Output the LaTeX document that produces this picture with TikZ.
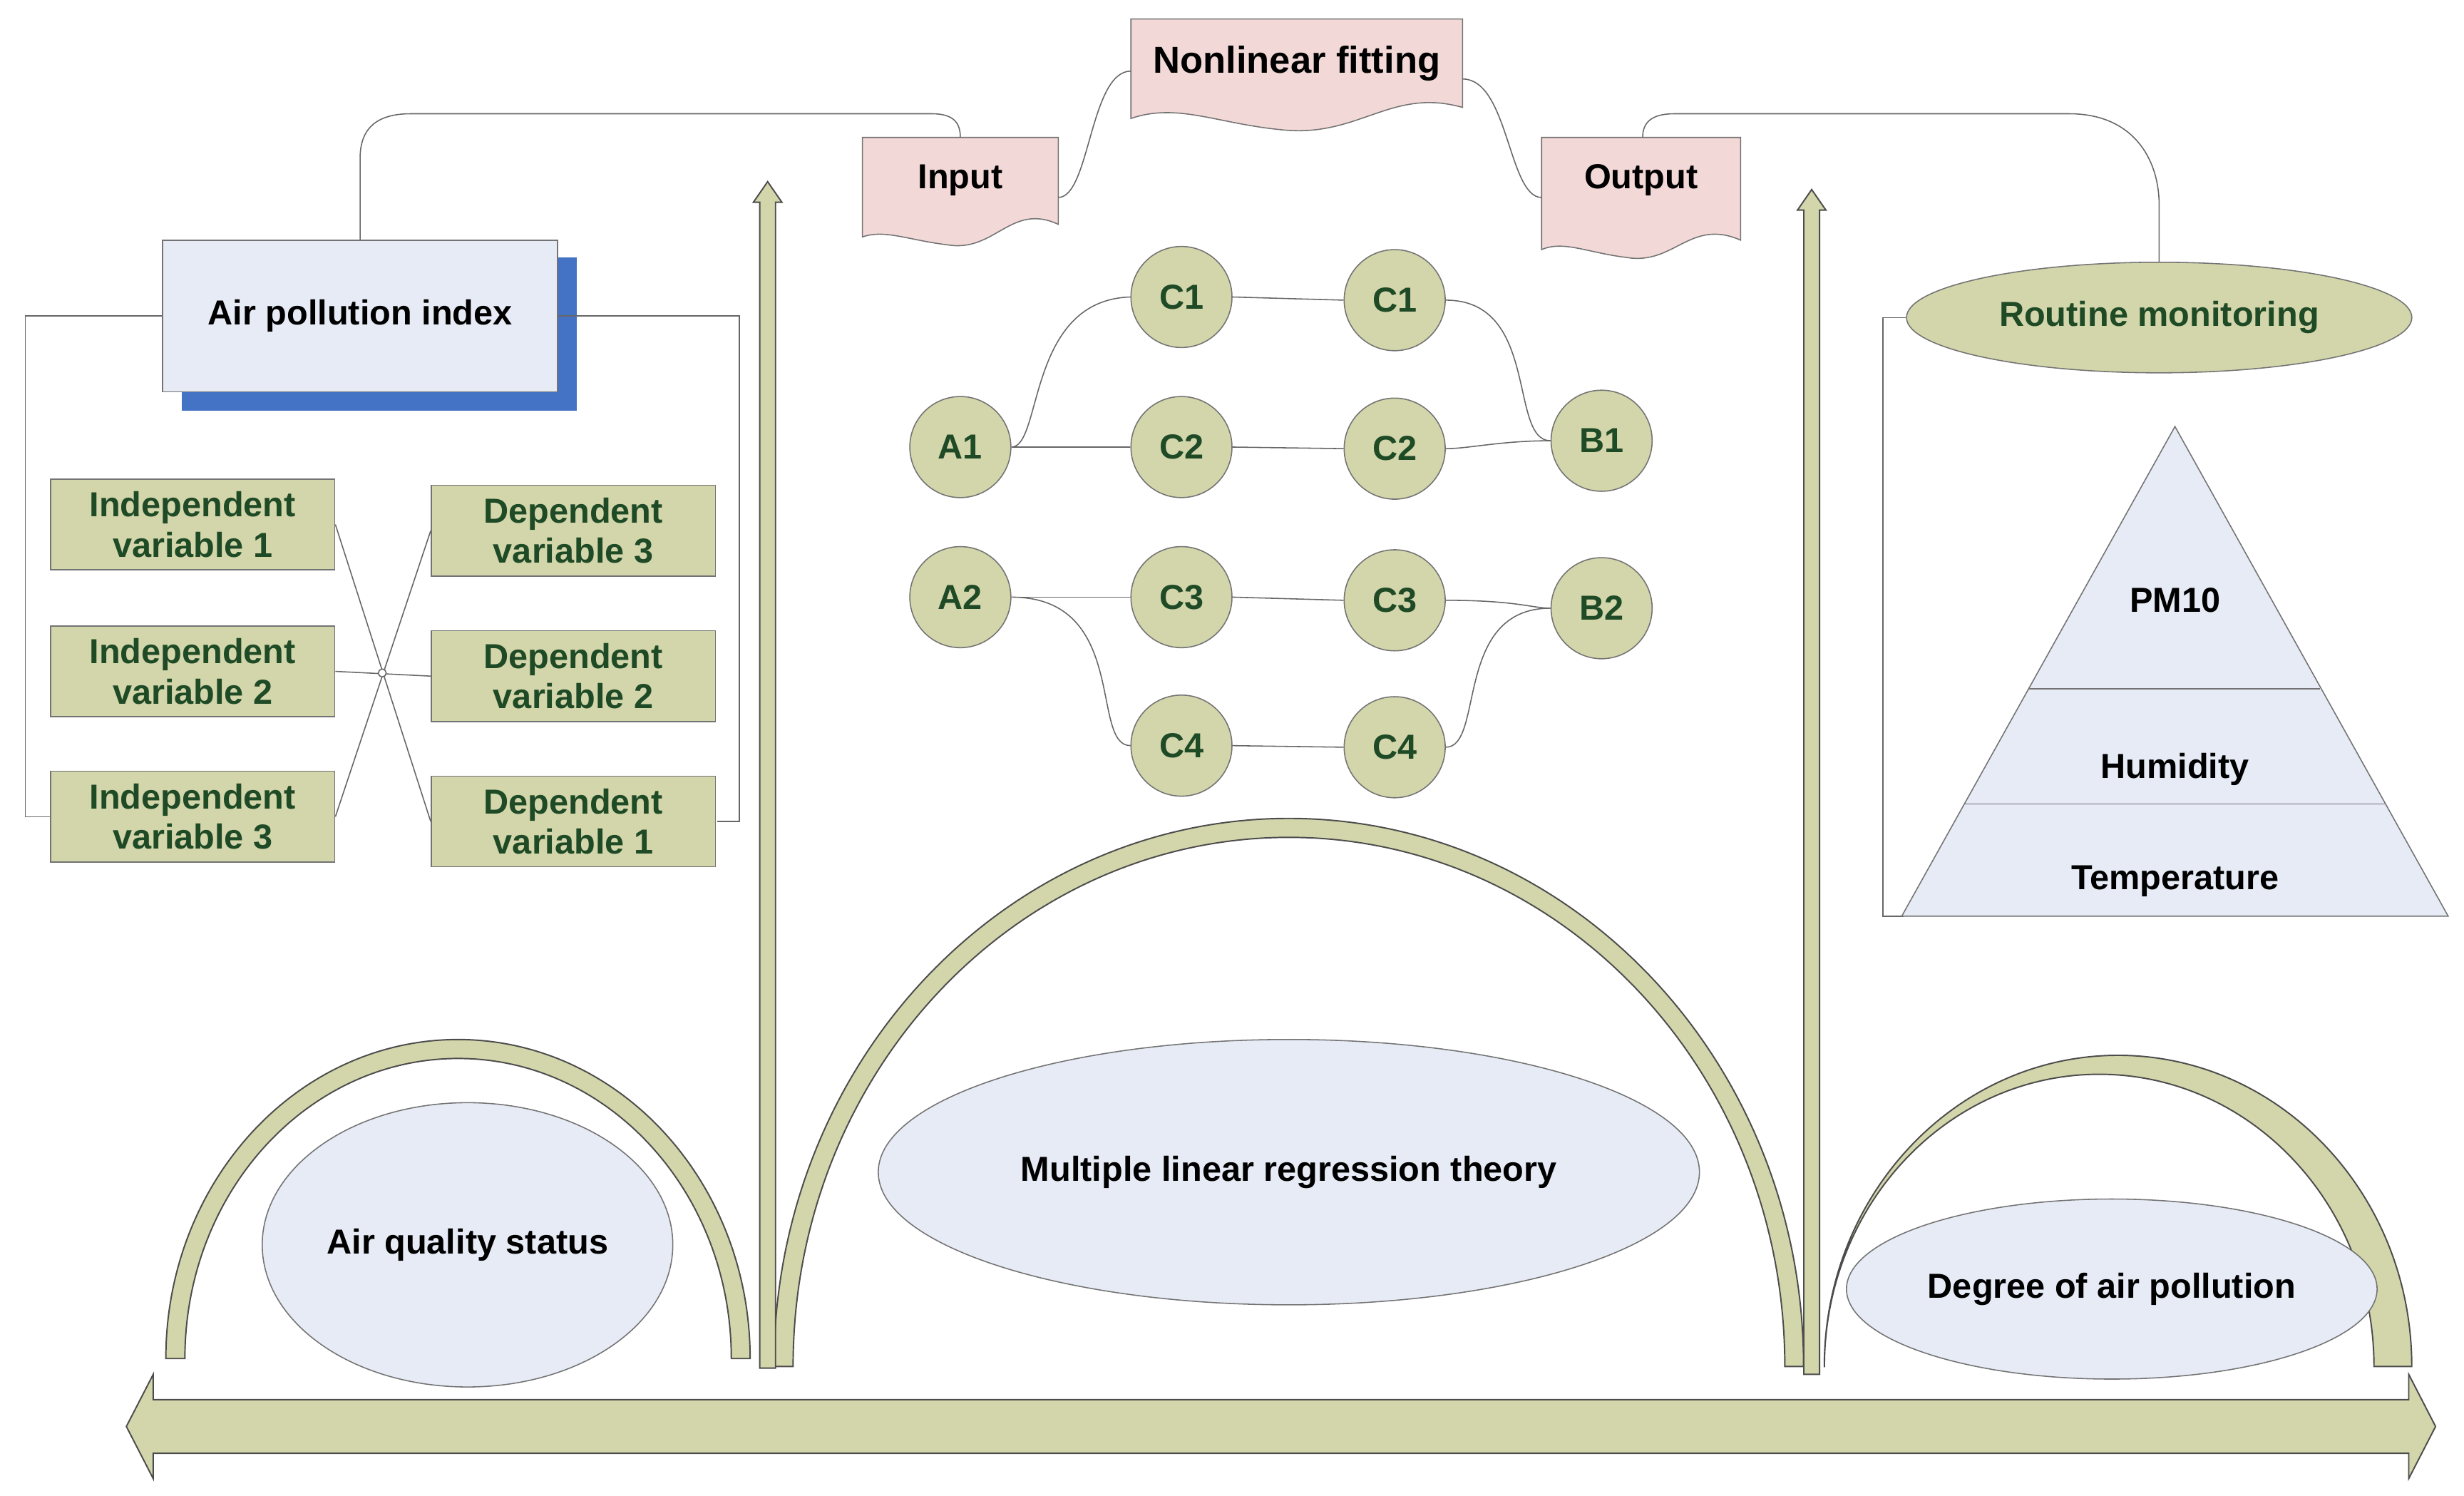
\documentclass[tikz,border=0pt]{standalone}
\usepackage{fontspec}
\setmainfont{Liberation Sans}
\usetikzlibrary{shapes.geometric}
\begin{document}
\begin{tikzpicture}[x=0.02cm,y=-0.02cm,
  txt/.style={font=\fontsize{12.5}{14.5}\selectfont\bfseries,text=dgreen,align=center},
  var/.style={draw=black!55,fill=olive1,minimum width=3.6cm,minimum height=1.15cm,inner sep=0pt,txt},
  circ/.style={circle,draw=black!55,fill=olive1,minimum size=1.28cm,inner sep=0pt,txt},
  band/.style={fill=olive1,draw=black!70,line width=0.5pt},
  con/.style={draw=black!60,line width=0.4pt},
  ell/.style={ellipse,draw=black!55,fill=pale,txt,text=black,inner sep=0pt},
  doc/.style={draw=black!55,fill=pink1}]
\definecolor{olive1}{HTML}{D3D5AA}
\definecolor{dgreen}{HTML}{1E4A26}
\definecolor{pale}{HTML}{E6EBF5}
\definecolor{pink1}{HTML}{F2D9D7}
\definecolor{shadow}{HTML}{4472C4}
\useasboundingbox (0,0) rectangle (1560,947);
% bottom double arrow
\draw[band] (80,903)--(97,870)--(97,886)--(1525,886)--(1525,870)--(1542,903)--(1525,936)--(1525,920)--(97,920)--(97,936)--cycle;
% arcs
\draw[band] (105,860) arc[start angle=180,end angle=0,x radius=3.7cm,y radius=4.04cm] -- (463,860) arc[start angle=0,end angle=180,x radius=3.46cm,y radius=3.8cm] -- cycle;
\draw[band] (490,865) arc[start angle=180,end angle=0,x radius=6.52cm,y radius=6.94cm] -- (1130,865) arc[start angle=0,end angle=180,x radius=6.28cm,y radius=6.7cm] -- cycle;
\draw[band] (1155,865) arc[start angle=180,end angle=0,x radius=3.72cm,y radius=3.94cm] -- (1503,865) arc[start angle=0,end angle=180,x radius=3.48cm,y radius=3.7cm] -- cycle;
% vertical arrows
\draw[band] (481,866)--(481,128)--(477,128)--(486,115)--(495,128)--(491,128)--(491,866)--cycle;
\draw[band] (1142,870)--(1142,133)--(1138,133)--(1147,120)--(1156,133)--(1152,133)--(1152,870)--cycle;
% ellipses
\node[ell,minimum width=5.2cm,minimum height=3.6cm] (aqs) at (296,788) {Air quality status};
\node[ell,minimum width=10.4cm,minimum height=3.36cm] (mlr) at (816,742) {Multiple linear regression theory};
\node[ell,minimum width=6.72cm,minimum height=2.28cm] (dap) at (1337,816) {Degree of air pollution};
% API
\fill[shadow] (115,163) rectangle (365,260);
\node[draw=black!55,fill=pale,minimum width=5cm,minimum height=1.92cm,txt,text=black] (api) at (228,200) {Air pollution index};
\draw[con] (api.west) -- (16,200) -- (16,517) -- (32,517);
\draw[con] (api.east) -- (468,200) -- (468,520) -- (454,520);
\node[var] (i1) at (122,332) {Independent\\variable 1};
\node[var] (i2) at (122,425) {Independent\\variable 2};
\node[var] (i3) at (122,517) {Independent\\variable 3};
\node[var] (d3) at (363,336) {Dependent\\variable 3};
\node[var] (d2) at (363,428) {Dependent\\variable 2};
\node[var] (d1) at (363,520) {Dependent\\variable 1};
\draw[con] (i1.east) -- (d1.west);
\draw[con] (i2.east) -- (d2.west);
\draw[con] (i3.east) -- (d3.west);
\draw[con,fill=white] (242,426) circle[radius=2.5];
% documents
\draw[doc] (546,87)--(670,87)--(670,142) .. controls (640,128) and (630,160) .. (600,155) .. controls (575,152) and (560,145) .. (546,150) -- cycle;
\node[txt,text=black] (inp) at (608,114) {Input};
\draw[doc] (716,12)--(926,12)--(926,68) .. controls (880,55) and (860,88) .. (810,82) .. controls (770,78) and (745,65) .. (716,75) -- cycle;
\node[txt,text=black,font=\fontsize{13.5}{15}\selectfont\bfseries] (nlf) at (821,40) {Nonlinear fitting};
\draw[doc] (976,87)--(1102,87)--(1102,152) .. controls (1070,138) and (1060,168) .. (1030,163) .. controls (1005,160) and (990,152) .. (976,158) -- cycle;
\node[txt,text=black] (out) at (1039,114) {Output};
\coordinate (inr) at (670,125); \coordinate (nll) at (716,45);
\coordinate (nlr) at (926,50); \coordinate (outl) at (976,125);
\draw[con] (inr) .. controls (690,125) and (690,45) .. (nll);
\draw[con] (nlr) .. controls (955,50) and (955,125) .. (outl);
\coordinate (inT) at (608,87); \coordinate (outT) at (1040,87);
% routine
\node[ell,fill=olive1,text=dgreen,minimum width=6.4cm,minimum height=1.4cm] (rm) at (1367,201) {Routine monitoring};
\draw[con] (api.north) -- (228,100) .. controls (228,80) and (240,72) .. (260,72) -- (590,72) .. controls (604,72) and (608,78) .. (inT);
\draw[con] (outT) .. controls (1040,78) and (1045,72) .. (1060,72) -- (1310,72) .. controls (1350,72) and (1367,100) .. (1367,130) -- (rm.north);
\draw[con] (rm.west) -- (1192,201) -- (1192,580) -- (1205,580);
% pyramid
\draw[draw=black!55,fill=pale] (1377,270)--(1550,580)--(1204,580)--cycle;
\draw[draw=black!55] (1284,436)--(1469,436);
\draw[draw=black!55] (1244,509)--(1510,509);
\node[txt,text=black] (pm) at (1377,380) {PM10};
\node[txt,text=black] (hum) at (1377,487) {Humidity};
\node[txt,text=black] (tem) at (1377,558) {Temperature};
% network
\node[circ] (a1) at (608,283) {A1};
\node[circ] (a2) at (608,378) {A2};
\node[circ] (c1) at (748,188) {C1};
\node[circ] (c1b) at (883,190) {C1};
\node[circ] (c2) at (748,283) {C2};
\node[circ] (c2b) at (883,284) {C2};
\node[circ] (c3) at (748,378) {C3};
\node[circ] (c3b) at (883,380) {C3};
\node[circ] (c4) at (748,472) {C4};
\node[circ] (c4b) at (883,473) {C4};
\node[circ] (b1) at (1014,279) {B1};
\node[circ] (b2) at (1014,385) {B2};
\draw[con] (a1.east) .. controls (660,283) and (650,190) .. (c1.west);
\draw[con] (a1.east) -- (c2.west);
\draw[con] (c1.east) -- (c1b.west);
\draw[con] (c2.east) -- (c2b.west);
\draw[con] (c1b.east) .. controls (975,190) and (955,279) .. (b1.west);
\draw[con] (c2b.east) .. controls (930,284) and (950,279) .. (b1.west);
\draw[con] (a2.east) -- (c3.west);
\draw[con] (a2.east) .. controls (715,378) and (690,472) .. (c4.west);
\draw[con] (c3.east) -- (c3b.west);
\draw[con] (c4.east) -- (c4b.west);
\draw[con] (c3b.east) .. controls (960,380) and (970,385) .. (b2.west);
\draw[con] (c4b.east) .. controls (940,473) and (920,385) .. (b2.west);
\end{tikzpicture}
\end{document}
